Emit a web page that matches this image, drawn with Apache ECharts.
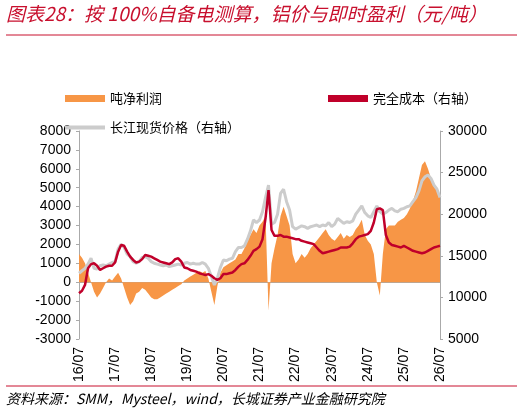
<!DOCTYPE html>
<html><head><meta charset="utf-8">
<script src="https://cdn.jsdelivr.net/npm/echarts@6/dist/echarts.min.js"></script>
<style>html,body{margin:0;padding:0;background:#fff}#c{width:525px;height:416px}</style>
</head><body><div id="c"></div>
<script>
const months = [];
for (let y = 2016; y <= 2026; y++) for (let m = 1; m <= 12; m++) {
  if ((y === 2016 && m < 7) || (y === 2026 && m > 7)) continue;
  months.push(String(y % 100).padStart(2, '0') + '/' + String(m).padStart(2, '0'));
}
const profit = [1500,1300,1000,500,0,-500,
-800,-600,-300,0,200,100,300,500,200,-300,-800,-1200,
-1000,-600,-500,-300,-400,-600,-800,-900,-900,-800,-700,-600,
-500,-400,-300,-200,-100,100,200,300,400,500,600,500,
600,200,-500,-1200,-200,500,800,900,1000,1100,1200,1500,
1500,1800,2200,2500,2800,2600,3000,3200,3500,-1500,1000,1800,
2500,3500,4000,3500,3000,1500,1000,1200,1500,1300,1500,1800,
2000,2200,2400,2600,2800,2500,2300,2200,2400,2600,2300,2500,
2400,2500,2800,3000,3300,2500,2200,2000,1500,0,-700,1500,
2800,3000,3000,3000,3200,3300,3400,3600,3900,4300,4800,5500,
6200,6400,6000,5500,5200,4800,4500];
const cost = [10500,10800,11500,13500,14000,14100,
13800,13300,13500,13700,13800,13800,14200,15500,16300,16200,15500,14900,
14500,14200,14300,14600,15100,15000,14900,14700,14500,14300,14200,14100,
14000,14200,14600,14700,14300,13600,13500,13300,13200,13100,12900,12800,
12700,12800,12600,12300,12100,12300,12800,12800,12900,13000,13300,13700,
14000,14100,14500,15000,15600,15800,16100,17000,19500,22900,18100,17400,
17400,17500,17300,17300,17200,17100,17000,17000,16800,16700,16600,16500,
16400,16000,15600,15300,15400,15500,15600,15700,15800,16000,16000,16000,
16100,16500,17000,17300,17400,17500,17600,18000,19000,20600,20700,20500,
17500,16600,16300,16200,16100,16000,16200,16000,15800,15600,15500,15400,
15300,15400,15600,15800,16000,16100,16200];
const price = [12900,13200,13500,14000,14700,13500,
13400,13800,13900,13800,14000,14200,14300,15800,16400,16000,15200,14900,
14300,14100,14300,14800,14900,14700,14300,14100,14000,13900,13800,13900,
13700,13800,13900,14000,13900,14100,14200,14000,14100,14000,14000,14200,
14000,13500,12500,11500,12300,13600,14500,14400,14600,14700,15500,16000,
16000,16200,17000,18000,19300,19000,19300,20300,22000,23500,18800,19000,
20000,22500,23000,21500,20500,18500,18200,18400,18600,18500,18300,18500,
18600,18700,18500,18700,18600,19000,18500,18800,19500,19200,18900,19100,
19000,19200,20000,20500,21000,20200,19800,19600,20300,21000,20300,20000,
20200,20500,20700,20400,20300,20600,20700,20900,21000,21500,22000,22800,
24000,24500,24700,24300,23500,23000,22000];
const names = ['吨净利润','完全成本（右轴）','长江现货价格（右轴）'];

const chart = echarts.init(document.getElementById('c'));
const lf = 'SimSun, "Noto Sans CJK SC", serif';
const fmt = v => String(v);
chart.setOption({
  animation: false,
  graphic: [
    {type:'text', left:6, top:4, style:{text:'图表28：按 100%自备电测算，铝价与即时盈利（元/吨）', fill:'#c8102e', font:'italic 19px "Noto Sans CJK SC", sans-serif'}},
    {type:'line', shape:{x1:6,y1:35,x2:517,y2:35}, style:{stroke:'#c8102e', lineWidth:1}},
    {type:'line', shape:{x1:6,y1:386,x2:517,y2:386}, style:{stroke:'#c8102e', lineWidth:1}},
    {type:'text', left:6, top:392, style:{text:'资料来源：SMM，Mysteel，wind，长城证券产业金融研究院', fill:'#000', font:'italic 14px "Noto Sans CJK SC", sans-serif'}}
  ],
  legend: [
    {left:60, top:87, itemWidth:40, itemHeight:7, itemGap:166,
     data:[{name:names[0], icon:'rect'}, {name:names[1], icon:'rect', itemStyle:{color:'#c0002a'}}],
     textStyle:{fontSize:13, color:'#000', fontFamily:lf}},
    {left:60, top:116, itemWidth:40, itemHeight:4, data:[{name:names[2], icon:'rect'}], textStyle:{fontSize:13, color:'#000', fontFamily:lf}}
  ],
  grid: {left:79, right:85, top:131, bottom:77},
  xAxis: {
    type:'category', data:months, boundaryGap:false,
    axisLine:{onZero:true, lineStyle:{color:'#aaa'}},
    axisTick:{show:false},
    axisLabel:{rotate:90, interval:11, fontSize:14, color:'#000', fontFamily:'Arial', showMaxLabel:true}
  },
  yAxis: [
    {type:'value', min:-3000, max:8000, interval:1000, splitLine:{show:false},
     axisLine:{show:true, lineStyle:{color:'#aaa'}}, axisTick:{show:true, length:3},
     axisLabel:{fontSize:14, color:'#000', fontFamily:'Arial', formatter:fmt}},
    {type:'value', min:5000, max:30000, interval:5000, splitLine:{show:false},
     axisLine:{show:true, lineStyle:{color:'#aaa'}}, axisTick:{show:true, length:3},
     axisLabel:{fontSize:14, color:'#000', fontFamily:'Arial', formatter:fmt}}
  ],
  series: [
    {name:names[0], type:'line', data:profit, symbol:'none', lineStyle:{width:0}, itemStyle:{color:'#f79646'}, areaStyle:{color:'#f79646', opacity:1}, z:1},
    {name:names[1], type:'line', yAxisIndex:1, data:cost, symbol:'none', lineStyle:{width:2.5, color:'#c0002a'}, itemStyle:{color:'#c0002a'}, z:3},
    {name:names[2], type:'line', yAxisIndex:1, data:price, symbol:'none', lineStyle:{width:3, color:'#cccccc'}, itemStyle:{color:'#cccccc'}, z:2}
  ]
});
</script></body></html>
